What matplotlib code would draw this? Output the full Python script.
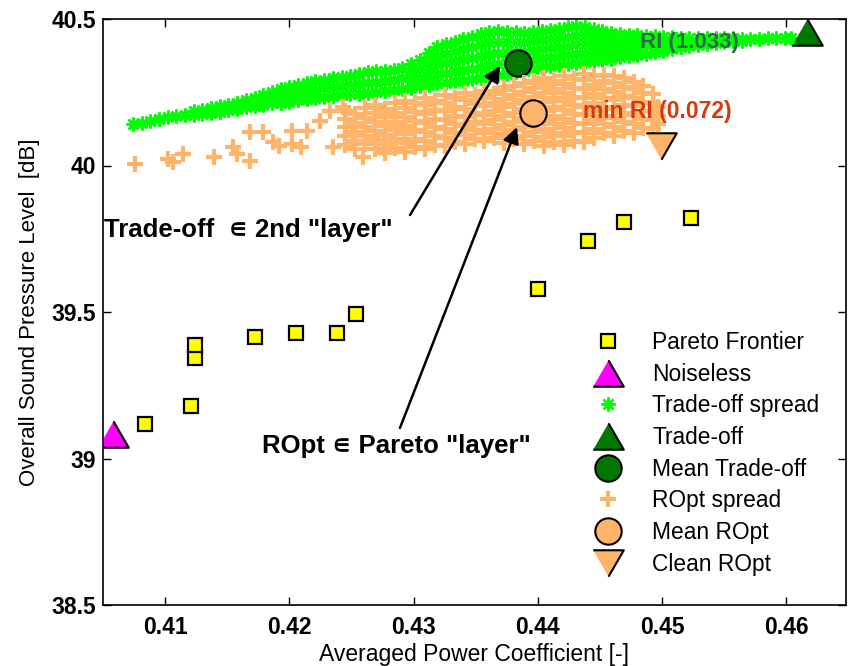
import matplotlib
matplotlib.use("Agg")
import matplotlib.pyplot as plt
from matplotlib.ticker import FormatStrFormatter

plt.rcParams['font.family'] = ['Liberation Sans', 'DejaVu Sans']

# Pareto frontier (averaged Cp, OASPL)
pareto_cp = [0.4084, 0.4121, 0.4124, 0.4124, 0.4172, 0.4205, 0.4238, 0.4254,
             0.4400, 0.4440, 0.4469, 0.4523]
pareto_spl = [39.118, 39.179, 39.342, 39.387, 39.416, 39.429, 39.429, 39.493,
              39.578, 39.743, 39.808, 39.820]

noiseless = (0.4058, 39.085)
tradeoff = (0.4617, 40.454)
mean_tradeoff = (0.4384, 40.349)
mean_ropt = (0.4396, 40.180)
clean_ropt = (0.4499, 40.067)

# trade-off spread: (Cp, [OASPL values])
tradeoff_spread = [
    (0.4074, [40.141]), (0.4081, [40.146]), (0.4088, [40.152]), (0.4095, [40.160]),
    (0.4102, [40.165]), (0.4109, [40.170]), (0.4116, [40.174]),
    (0.4123, [40.171, 40.185]), (0.4130, [40.176, 40.190]), (0.4137, [40.180, 40.196]),
    (0.4144, [40.184, 40.202]), (0.4151, [40.188, 40.207]), (0.4158, [40.193, 40.214]),
    (0.4165, [40.198, 40.222]), (0.4172, [40.202, 40.232]),
    (0.4179, [40.207, 40.218, 40.242]), (0.4186, [40.212, 40.230, 40.251]),
    (0.4193, [40.215, 40.237, 40.260]), (0.4200, [40.218, 40.243, 40.268]),
    (0.4207, [40.223, 40.250, 40.276]), (0.4214, [40.227, 40.254, 40.280]),
    (0.4221, [40.229, 40.258, 40.288]), (0.4228, [40.233, 40.263, 40.293]),
    (0.4235, [40.237, 40.268, 40.298]), (0.4242, [40.240, 40.272, 40.302]),
    (0.4249, [40.243, 40.275, 40.306]), (0.4256, [40.245, 40.278, 40.312]),
    (0.4263, [40.247, 40.283, 40.318]), (0.4270, [40.250, 40.286, 40.321]),
    (0.4277, [40.254, 40.290, 40.324]), (0.4284, [40.258, 40.293, 40.327]),
    (0.4291, [40.262, 40.297, 40.333]),
    (0.4298, [40.266, 40.292, 40.320, 40.348]),
    (0.4305, [40.271, 40.300, 40.331, 40.360]),
    (0.4312, [40.275, 40.302, 40.330, 40.357, 40.385]),
    (0.4319, [40.280, 40.312, 40.345, 40.375, 40.405]),
    (0.4326, [40.283, 40.316, 40.350, 40.382, 40.414]),
    (0.4333, [40.287, 40.321, 40.356, 40.390, 40.423]),
    (0.4340, [40.290, 40.326, 40.362, 40.397, 40.432]),
    (0.4347, [40.294, 40.331, 40.368, 40.405, 40.440]),
    (0.4354, [40.299, 40.337, 40.375, 40.413, 40.450]),
    (0.4361, [40.304, 40.342, 40.381, 40.420, 40.457]),
    (0.4368, [40.308, 40.345, 40.383, 40.420, 40.458]),
    (0.4375, [40.312, 40.348, 40.384, 40.420, 40.456]),
    (0.4382, [40.320, 40.353, 40.387, 40.420, 40.454]),
    (0.4389, [40.324, 40.356, 40.388, 40.420, 40.452]),
    (0.4396, [40.330, 40.361, 40.392, 40.424, 40.455]),
    (0.4403, [40.336, 40.367, 40.398, 40.429, 40.460]),
    (0.4410, [40.340, 40.371, 40.401, 40.432, 40.462]),
    (0.4417, [40.344, 40.375, 40.405, 40.436, 40.466]),
    (0.4424, [40.347, 40.378, 40.409, 40.440, 40.471]),
    (0.4431, [40.351, 40.382, 40.413, 40.444, 40.475]),
    (0.4438, [40.354, 40.384, 40.414, 40.444, 40.474]),
    (0.4445, [40.358, 40.385, 40.412, 40.440, 40.467]),
    (0.4452, [40.361, 40.386, 40.410, 40.435, 40.460]),
    (0.4459, [40.365, 40.386, 40.408, 40.430, 40.452]),
    (0.4466, [40.369, 40.395, 40.422, 40.448]),
    (0.4473, [40.373, 40.397, 40.422, 40.446]),
    (0.4480, [40.378, 40.400, 40.422, 40.444]),
    (0.4487, [40.382, 40.412, 40.442]), (0.4494, [40.387, 40.414, 40.441]),
    (0.4501, [40.392, 40.416, 40.440]), (0.4508, [40.397, 40.417, 40.438]),
    (0.4515, [40.403, 40.420, 40.436]),
    (0.4522, [40.407, 40.435]), (0.4529, [40.410, 40.435]), (0.4536, [40.414, 40.435]),
    (0.4543, [40.418, 40.435]), (0.4550, [40.421, 40.435]), (0.4557, [40.424, 40.435]),
    (0.4564, [40.426, 40.433]), (0.4571, [40.432]), (0.4578, [40.433]),
    (0.4585, [40.434]), (0.4592, [40.434]), (0.4599, [40.435]), (0.4604, [40.435]),
]

# ROpt spread: (Cp, [OASPL values])
ropt_spread = [
    (0.4076, [40.005]), (0.4102, [40.022]), (0.4106, [40.012]), (0.4114, [40.039]),
    (0.4139, [40.029]), (0.4155, [40.063]), (0.4158, [40.039]),
    (0.4168, [40.015, 40.114]), (0.4179, [40.114]), (0.4187, [40.080]),
    (0.4192, [40.066]), (0.4202, [40.073, 40.117]), (0.4209, [40.063]),
    (0.4214, [40.117]), (0.4225, [40.152]), (0.4233, [40.186]), (0.4235, [40.063]),
    (0.4243, [40.199]), (0.4251, [40.107]), (0.4259, [40.029]), (0.4271, [40.073]),
    (0.4281, [40.063]),
    (0.4245, [40.070, 40.100, 40.130, 40.160, 40.186]),
    (0.4253, [40.055, 40.085, 40.115, 40.145, 40.175]),
    (0.4261, [40.072, 40.102, 40.132, 40.162, 40.196]),
    (0.4269, [40.058, 40.088, 40.118, 40.148, 40.178, 40.205]),
    (0.4277, [40.044, 40.074, 40.104, 40.134, 40.164, 40.194]),
    (0.4285, [40.060, 40.090, 40.120, 40.150, 40.180, 40.214]),
    (0.4293, [40.046, 40.076, 40.106, 40.136, 40.166, 40.196, 40.220]),
    (0.4301, [40.062, 40.092, 40.122, 40.152, 40.182, 40.212]),
    (0.4309, [40.055, 40.085, 40.115, 40.145, 40.175, 40.205, 40.230]),
    (0.4317, [40.070, 40.100, 40.130, 40.160, 40.190, 40.220]),
    (0.4325, [40.065, 40.095, 40.125, 40.155, 40.185, 40.215, 40.240]),
    (0.4333, [40.080, 40.110, 40.140, 40.170, 40.200, 40.230]),
    (0.4341, [40.074, 40.104, 40.134, 40.164, 40.194, 40.224, 40.247]),
    (0.4349, [40.090, 40.120, 40.150, 40.180, 40.210, 40.240]),
    (0.4357, [40.082, 40.112, 40.142, 40.172, 40.202, 40.232, 40.253]),
    (0.4365, [40.095, 40.125, 40.155, 40.185, 40.215, 40.245]),
    (0.4373, [40.078, 40.108, 40.138, 40.168, 40.198, 40.228, 40.258, 40.268]),
    (0.4381, [40.090, 40.120, 40.150, 40.180, 40.210, 40.240, 40.270]),
    (0.4389, [40.072, 40.102, 40.132, 40.162, 40.192, 40.222, 40.252, 40.282]),
    (0.4397, [40.085, 40.115, 40.145, 40.175, 40.205, 40.235, 40.265, 40.290]),
    (0.4405, [40.066, 40.096, 40.126, 40.156, 40.186, 40.216, 40.246, 40.276, 40.300]),
    (0.4413, [40.080, 40.110, 40.140, 40.170, 40.200, 40.230, 40.260, 40.290]),
    (0.4421, [40.069, 40.099, 40.129, 40.159, 40.189, 40.219, 40.249, 40.279, 40.306]),
    (0.4429, [40.085, 40.115, 40.145, 40.175, 40.205, 40.235, 40.265, 40.295]),
    (0.4437, [40.081, 40.111, 40.141, 40.171, 40.201, 40.231, 40.261, 40.291, 40.312]),
    (0.4445, [40.095, 40.125, 40.155, 40.185, 40.215, 40.245, 40.275, 40.305]),
    (0.4453, [40.110, 40.140, 40.170, 40.200, 40.230, 40.260, 40.290, 40.308]),
    (0.4461, [40.102, 40.132, 40.162, 40.192, 40.222, 40.252, 40.282, 40.305]),
    (0.4469, [40.118, 40.148, 40.178, 40.208, 40.238, 40.268, 40.298]),
    (0.4477, [40.112, 40.142, 40.172, 40.202, 40.232, 40.262, 40.285]),
    (0.4485, [40.127, 40.157, 40.187, 40.217, 40.247, 40.270]),
    (0.4493, [40.125, 40.155, 40.185, 40.215, 40.245]),
    (0.4497, [40.140, 40.170, 40.200]),
]

GREEN = '#00ff00'
DKGREEN = '#007800'
ORANGE = '#ffb469'
MAGENTA = '#ff00ff'
YELLOW = '#ffff00'

tri_up = [(-1, -0.866), (1, -0.866), (0, 0.866)]
tri_down = [(-1, 0.866), (1, 0.866), (0, -0.866)]

fig = plt.figure(figsize=(8.53, 6.66), dpi=100)
ax = fig.add_axes([103 / 853, 61 / 666, 743 / 853, 586 / 666])

ax.plot(pareto_cp, pareto_spl, 's', ms=10, mfc=YELLOW, mec='k', mew=1.6,
        label='Pareto Frontier')
ax.plot(*noiseless, marker=tri_up, ls='none', ms=22, mfc=MAGENTA, mec='k', mew=1.5,
        label='Noiseless')

gx = [x for x, ys in tradeoff_spread for _ in ys]
gy = [y for _, ys in tradeoff_spread for y in ys]
ax.plot(gx, gy, ls='none', marker=(8, 2, 0), ms=10, mec=GREEN, mew=1.8,
        label='Trade-off spread')
ax.plot(*tradeoff, marker=tri_up, ls='none', ms=22, mfc=DKGREEN, mec='k', mew=1.5,
        label='Trade-off')
ax.plot(*mean_tradeoff, 'o', ms=19, mfc=DKGREEN, mec='k', mew=1.5,
        label='Mean Trade-off')

ox = [x for x, ys in ropt_spread for _ in ys]
oy = [y for _, ys in ropt_spread for y in ys]
ax.plot(ox, oy, ls='none', marker='+', ms=12, mec=ORANGE, mew=3.0,
        label='ROpt spread')
ax.plot(*mean_ropt, 'o', ms=19, mfc=ORANGE, mec='k', mew=1.5, label='Mean ROpt')
ax.plot(*clean_ropt, marker=tri_down, ls='none', ms=22, mfc=ORANGE, mec='k', mew=1.5,
        label='Clean ROpt')

ax.text(0.4482, 40.4215, 'RI (1.033)', color='#2e6b4a', fontsize=16, fontweight='bold',
        va='center', ha='left')
ax.text(0.4436, 40.1826, 'min RI (0.072)', color='#d63a0c', fontsize=16.5,
        fontweight='bold', va='center', ha='left')

arrow = dict(arrowstyle='-|>', color='k', lw=1.8, mutation_scale=24,
             shrinkA=0, shrinkB=0)
ax.annotate('', xy=(0.43695, 40.3396), xytext=(0.42971, 39.831), arrowprops=arrow)
ax.annotate('', xy=(0.43832, 40.131), xytext=(0.42890, 39.104), arrowprops=arrow)
ax.text(0.40508, 39.780, 'Trade-off  \u220a 2nd "layer"', fontsize=18.5,
        fontweight='bold', va='center', ha='left')
ax.text(0.4178, 39.043, 'ROpt \u220a Pareto "layer"', fontsize=18.5,
        fontweight='bold', va='center', ha='left')

ax.set_xlim(0.405, 0.4648)
ax.set_ylim(38.5, 40.5)
ax.set_xticks([0.41, 0.42, 0.43, 0.44, 0.45, 0.46])
ax.set_yticks([38.5, 39, 39.5, 40, 40.5])
ax.xaxis.set_major_formatter(FormatStrFormatter('%g'))
ax.yaxis.set_major_formatter(FormatStrFormatter('%g'))
ax.tick_params(direction='in', top=True, right=True, length=6, width=1,
               labelsize=16.5)
ax.tick_params(axis='x', pad=8)
ax.tick_params(axis='y', pad=5)
for lab in ax.get_xticklabels() + ax.get_yticklabels():
    lab.set_fontweight('bold')
for sp in ax.spines.values():
    sp.set_linewidth(1.2)

ax.set_xlabel('Averaged Power Coefficient [-]', fontsize=16.5, labelpad=3)
ax.set_ylabel('Overall Sound Pressure Level  [dB]', fontsize=16, labelpad=8)

ax.legend(loc='upper left', bbox_to_anchor=(585 / 853, 1 - 331 / 666),
          bbox_transform=fig.transFigure, frameon=False, fontsize=16.4,
          borderaxespad=0, borderpad=0, labelspacing=0.38, handlelength=2.0,
          handletextpad=0.95, numpoints=1)

fig.savefig('out.png', dpi=100)
